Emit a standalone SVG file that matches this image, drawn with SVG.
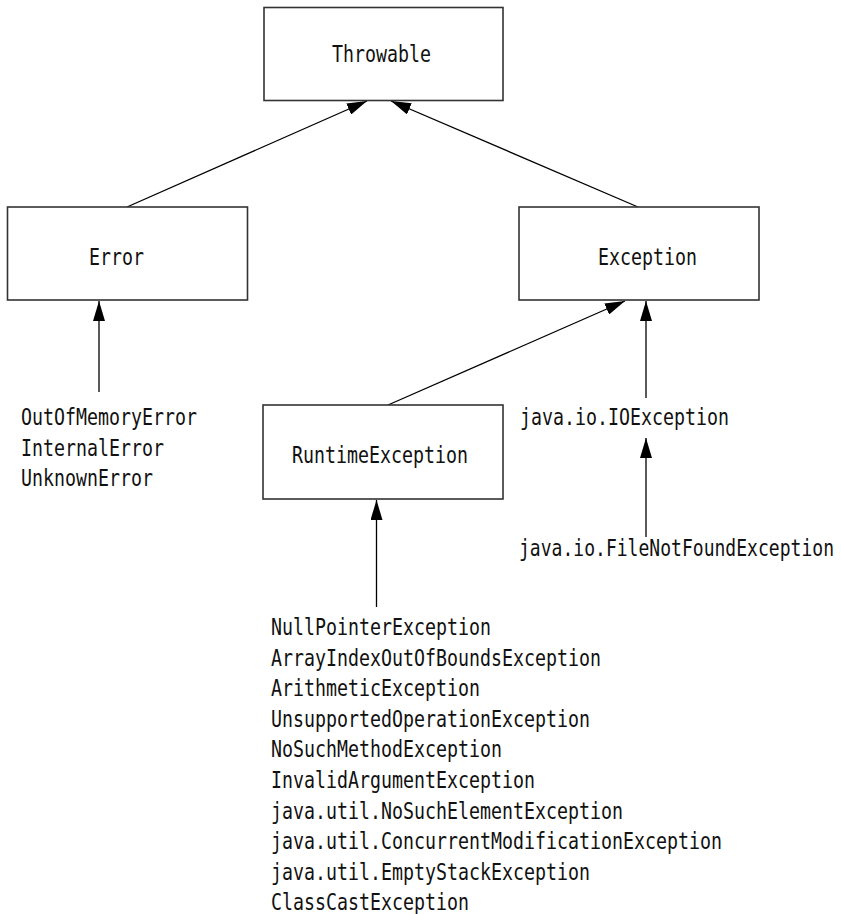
<svg xmlns="http://www.w3.org/2000/svg" width="841" height="914" viewBox="0 0 841 914">
<style>
.box{fill:#fff;stroke:#333;stroke-width:1.6}
.t{font-family:"DejaVu Sans Mono","Liberation Mono",monospace;font-size:23px;fill:#111}
.c{stroke:#000;stroke-width:1.3;fill:none;marker-end:url(#ah)}
</style>
<defs>
<marker id="ah" markerUnits="userSpaceOnUse" markerWidth="20" markerHeight="12" refX="20" refY="6" orient="auto">
<path d="M0,0 L20,6 L0,12 z" fill="#000"/>
</marker>
</defs>
<rect width="841" height="914" fill="#fff"/>
<g id="connectors">
<line class="c" x1="127" y1="207" x2="367" y2="101"/>
<line class="c" x1="638" y1="207" x2="391" y2="101"/>
<line class="c" x1="388" y1="405" x2="625" y2="301"/>
<line class="c" x1="646" y1="398" x2="646" y2="301"/>
<line class="c" x1="646" y1="537" x2="646" y2="438"/>
<line class="c" x1="376.5" y1="607" x2="376.5" y2="500"/>
<line class="c" x1="99" y1="392" x2="99" y2="301"/>
</g>
<g id="throwable">
<rect class="box" x="264" y="7.5" width="239" height="93"/>
<text class="t" x="332" y="62" textLength="99" lengthAdjust="spacingAndGlyphs">Throwable</text>
</g>
<g id="error">
<rect class="box" x="7.5" y="207" width="240" height="93"/>
<text class="t" x="89" y="265" textLength="55" lengthAdjust="spacingAndGlyphs">Error</text>
</g>
<g id="exception">
<rect class="box" x="519" y="207" width="240" height="93"/>
<text class="t" x="598" y="265" textLength="99" lengthAdjust="spacingAndGlyphs">Exception</text>
</g>
<g id="runtimeexception">
<rect class="box" x="263" y="405" width="240" height="94"/>
<text class="t" x="292" y="463" textLength="176" lengthAdjust="spacingAndGlyphs">RuntimeException</text>
</g>
<g id="errors-list">
<text class="t" x="21" y="425" textLength="176" lengthAdjust="spacingAndGlyphs">OutOfMemoryError</text>
<text class="t" x="21" y="456" textLength="143" lengthAdjust="spacingAndGlyphs">InternalError</text>
<text class="t" x="21" y="486" textLength="132" lengthAdjust="spacingAndGlyphs">UnknownError</text>
</g>
<g id="ioexception">
<text class="t" x="520" y="425" textLength="209" lengthAdjust="spacingAndGlyphs">java.io.IOException</text>
</g>
<g id="filenotfound">
<text class="t" x="519" y="556" textLength="315" lengthAdjust="spacingAndGlyphs">java.io.FileNotFoundException</text>
</g>
<g id="runtime-list">
<text class="t" x="271" y="635" textLength="220" lengthAdjust="spacingAndGlyphs">NullPointerException</text>
<text class="t" x="271" y="665.6" textLength="330" lengthAdjust="spacingAndGlyphs">ArrayIndexOutOfBoundsException</text>
<text class="t" x="271" y="696.2" textLength="209" lengthAdjust="spacingAndGlyphs">ArithmeticException</text>
<text class="t" x="271" y="726.8" textLength="319" lengthAdjust="spacingAndGlyphs">UnsupportedOperationException</text>
<text class="t" x="271" y="757.4" textLength="231" lengthAdjust="spacingAndGlyphs">NoSuchMethodException</text>
<text class="t" x="271" y="788" textLength="264" lengthAdjust="spacingAndGlyphs">InvalidArgumentException</text>
<text class="t" x="271" y="818.6" textLength="352" lengthAdjust="spacingAndGlyphs">java.util.NoSuchElementException</text>
<text class="t" x="271" y="849.2" textLength="451" lengthAdjust="spacingAndGlyphs">java.util.ConcurrentModificationException</text>
<text class="t" x="271" y="879.8" textLength="319" lengthAdjust="spacingAndGlyphs">java.util.EmptyStackException</text>
<text class="t" x="271" y="910.4" textLength="198" lengthAdjust="spacingAndGlyphs">ClassCastException</text>
</g>
</svg>
